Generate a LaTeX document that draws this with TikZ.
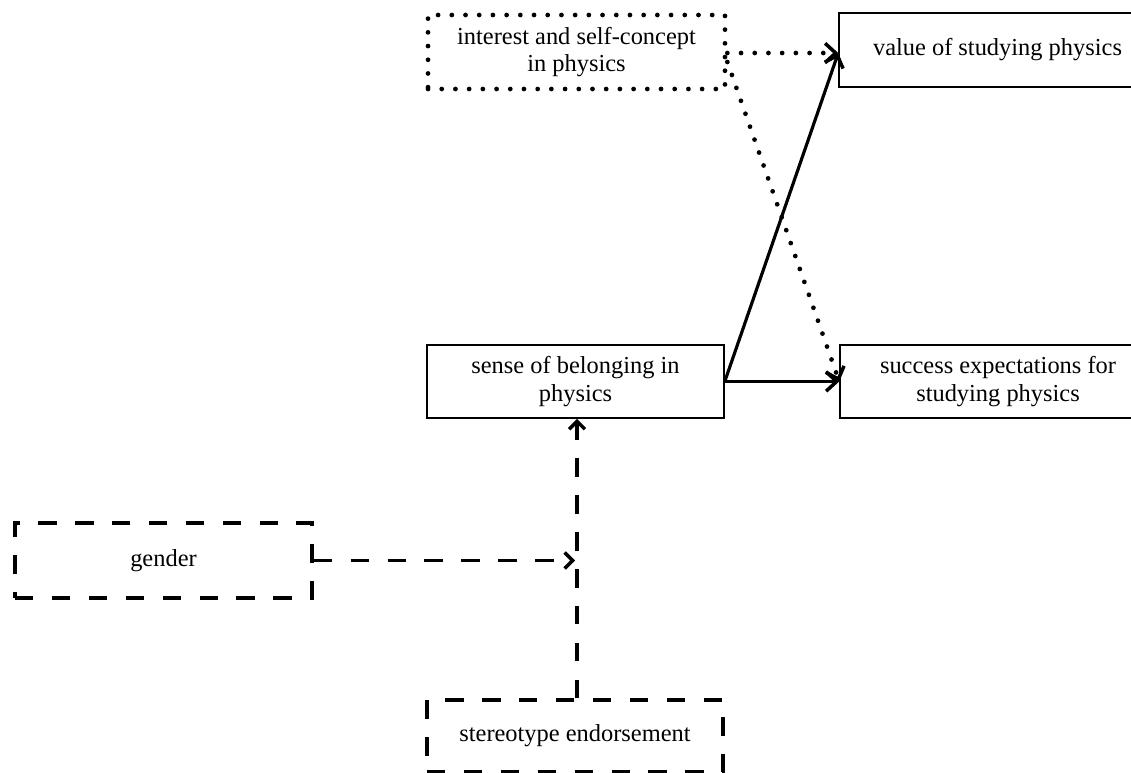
\documentclass[tikz,border=0pt]{standalone}
\usepackage{fontspec}
\setmainfont{Liberation Serif}
\usetikzlibrary{arrows.meta}
\begin{document}
\begin{tikzpicture}[x=0.02cm,y=-0.02cm,
  every node/.style={font=\fontsize{13.9}{15.5}\selectfont, align=center, inner sep=0pt},
  solidbox/.style={draw, line width=0.9pt},
  dashbox/.style={draw, line width=2pt, dash pattern=on 10.5pt off 10.5pt},
  dotbox/.style={draw, line width=2.7pt, dash pattern=on 0pt off 7.8pt, line cap=round},
  solidarrow/.style={line width=1.8pt, -{Straight Barb[length=6pt,width=11pt,line width=2pt]}},
  dotarrow/.style={line width=2.7pt, dash pattern=on 0pt off 7.8pt, line cap=round, -{Straight Barb[length=6pt,width=11pt,line width=2pt]}},
  dasharrow/.style={line width=2pt, dash pattern=on 10.5pt off 10.5pt, -{Straight Barb[length=4.5pt,width=9pt,line width=2pt]}}
]
\useasboundingbox (0,0) rectangle (1131,773);
\clip (0,0) rectangle (1131,773);

\node[dotbox, minimum width=5.94cm, minimum height=1.48cm] (interest) at (576.5,52) {interest and self-concept\\in physics};
\node[solidbox, minimum width=6.34cm, minimum height=1.48cm] (value) at (997.5,50) {value of studying physics};
\node[solidbox, minimum width=5.94cm, minimum height=1.46cm] (sense) at (575.5,381.5) {sense of belonging in\\physics};
\node[solidbox, minimum width=6.32cm, minimum height=1.46cm] (success) at (998,381.5) {success expectations for\\studying physics};
\node[dashbox, minimum width=5.94cm, minimum height=1.5cm] (gender) at (163.5,560.5) {gender};
\node[dashbox, minimum width=5.92cm, minimum height=1.44cm] (stereo) at (575,736) {stereotype endorsement};

\coordinate (vtop) at ([xshift=0.03cm]sense.south);
\coordinate (vbot) at ([xshift=0.04cm]stereo.north);
\coordinate (vmid) at (vbot |- gender.east);
\coordinate (vtip) at ([xshift=-0.04cm]vmid);

\draw[solidarrow] (sense.east) -- ([yshift=-0.06cm]value.west);
\draw[solidarrow] (sense.east) -- (success.west);
\draw[dotarrow] ([yshift=-0.02cm]interest.east) -- ([yshift=-0.06cm]value.west);
\draw[dotarrow] ([yshift=-0.2cm]interest.east) -- (success.west);
\draw[dasharrow] (vbot) -- (vbot |- vtop);
\draw[dasharrow] (gender.east) -- (vtip);
\end{tikzpicture}
\end{document}
